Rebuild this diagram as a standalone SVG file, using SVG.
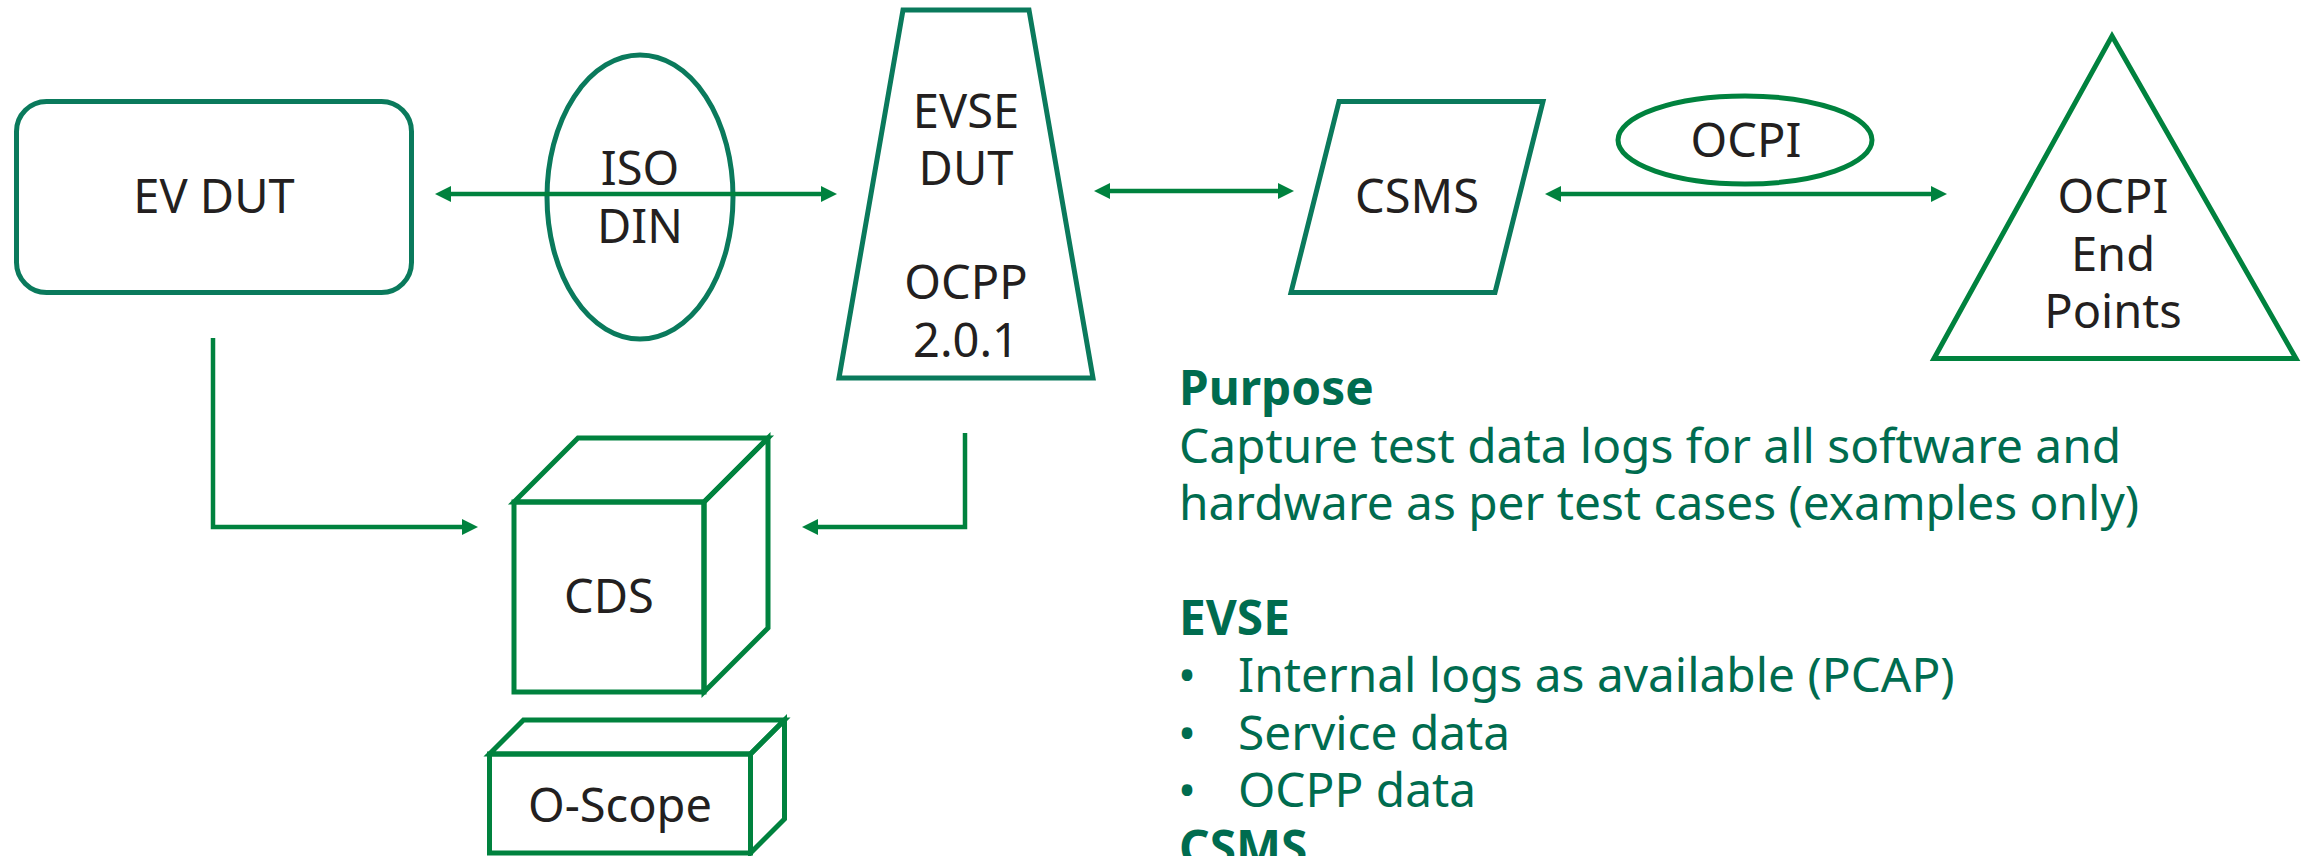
<svg xmlns="http://www.w3.org/2000/svg" width="2303" height="856" viewBox="0 0 2303 856">
  <style>
    .teal { fill: none; stroke: #0A7A5C; stroke-width: 5; stroke-linejoin: miter; }
    .grn { fill: none; stroke: #00823E; stroke-width: 5; stroke-linejoin: miter; }
    .lbl { font-family: "Noto Sans", "Open Sans", "Liberation Sans", sans-serif; font-size: 47px; fill: #231F20; text-anchor: middle; }
    .conn { fill: none; stroke: #00823E; stroke-width: 4.5; }
    .txt { font-family: "Noto Sans", "Open Sans", "Liberation Sans", sans-serif; font-size: 47.8px; fill: #006C4F; }
    .hd { font-weight: bold; }
  </style>
  <defs>
    <marker id="ah" markerUnits="userSpaceOnUse" markerWidth="16" markerHeight="16" refX="8" refY="8" orient="auto-start-reverse">
      <path d="M0,0 L16,8 L0,16 z" fill="#00823E"/>
    </marker>
  </defs>
  <rect width="2303" height="856" fill="#FFFFFF"/>

  <g id="ev-dut">
    <rect class="teal" x="16.5" y="101.5" width="395" height="191" rx="30" ry="30"/>
    <text class="lbl" x="214" y="213">EV DUT</text>
  </g>

  <g id="iso-din">
    <ellipse class="teal" cx="640" cy="197" rx="93" ry="142"/>
    <text class="lbl" x="640" y="185">ISO</text>
    <text class="lbl" x="640" y="243">DIN</text>
  </g>

  <g id="evse-dut">
    <polygon class="teal" points="903,10 1029,10 1093,378 839,378"/>
    <text class="lbl" x="966" y="128">EVSE</text>
    <text class="lbl" x="966" y="185">DUT</text>
    <text class="lbl" x="966" y="299">OCPP</text>
    <text class="lbl" x="966" y="357">2.0.1</text>
  </g>

  <g id="csms">
    <polygon class="teal" points="1339,101.5 1543,101.5 1495,292.5 1291,292.5"/>
    <text class="lbl" x="1417" y="213">CSMS</text>
  </g>

  <g id="ocpi">
    <ellipse class="grn" cx="1745" cy="140" rx="127" ry="44"/>
    <text class="lbl" x="1746" y="157">OCPI</text>
  </g>

  <g id="ocpi-end-points">
    <polygon class="grn" points="2112,36 2296,358.5 1934,358.5"/>
    <text class="lbl" x="2113" y="213">OCPI</text>
    <text class="lbl" x="2113" y="271">End</text>
    <text class="lbl" x="2113" y="328">Points</text>
  </g>

  <g id="cds">
    <rect class="grn" x="514" y="502" width="190" height="190"/>
    <polygon class="grn" points="514,502 578,438 768,438 704,502"/>
    <polygon class="grn" points="704,502 768,438 768,628 704,692"/>
    <text class="lbl" x="609" y="613">CDS</text>
  </g>

  <g id="o-scope">
    <rect class="grn" x="489.5" y="754" width="261" height="99"/>
    <polygon class="grn" points="489.5,754 523.5,720 784.5,720 750.5,754"/>
    <polygon class="grn" points="750.5,754 784.5,720 784.5,819 750.5,853"/>
    <text class="lbl" x="620" y="822">O-Scope</text>
  </g>

  <g id="connectors">
    <path class="conn" d="M443,194 H829" marker-start="url(#ah)" marker-end="url(#ah)"/>
    <path class="conn" d="M1102,191 H1286" marker-start="url(#ah)" marker-end="url(#ah)"/>
    <path class="conn" d="M1553,194 H1939" marker-start="url(#ah)" marker-end="url(#ah)"/>
    <path class="conn" d="M213,338 V527 H470" marker-end="url(#ah)"/>
    <path class="conn" d="M965,433 V527 H810" marker-end="url(#ah)"/>
  </g>

  <g id="notes">
    <text class="txt hd" x="1179" y="405">Purpose</text>
    <text class="txt" x="1179" y="463">Capture test data logs for all software and</text>
    <text class="txt" x="1179" y="520">hardware as per test cases (examples only)</text>
    <text class="txt hd" x="1179" y="635">EVSE</text>
    <text class="txt" x="1178" y="692">•</text>
    <text class="txt" x="1238" y="692">Internal logs as available (PCAP)</text>
    <text class="txt" x="1178" y="750">•</text>
    <text class="txt" x="1238" y="750">Service data</text>
    <text class="txt" x="1178" y="807">•</text>
    <text class="txt" x="1238" y="807">OCPP data</text>
    <text class="txt hd" x="1179" y="865">CSMS</text>
  </g>
</svg>
